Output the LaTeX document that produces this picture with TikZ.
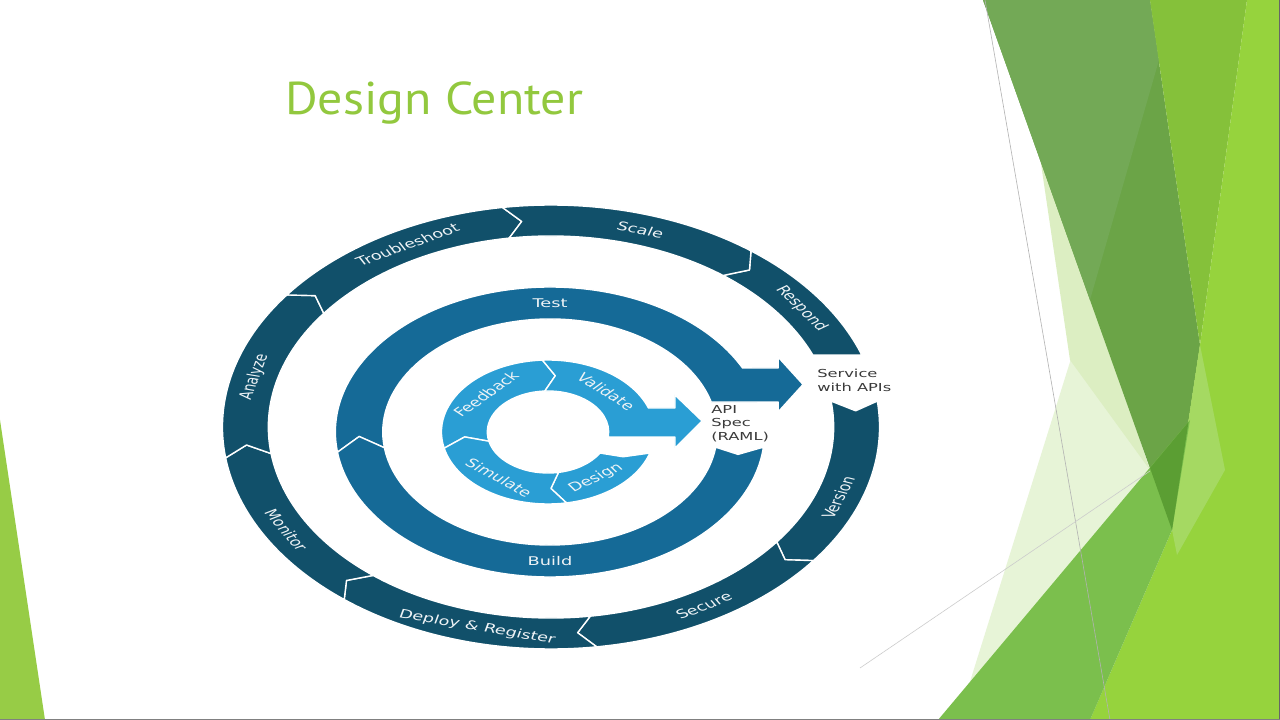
\documentclass[tikz,border=0pt]{standalone}
\usepackage{fontspec}
\setmainfont{DejaVu Sans}
\newfontfamily\titlefont{PT Sans}
\usetikzlibrary{calc}
\definecolor{ringA}{HTML}{11506A}
\definecolor{ringB}{HTML}{156A97}
\definecolor{ringC}{HTML}{2A9ED4}
\definecolor{titlegreen}{HTML}{92C83E}
\definecolor{lblcol}{HTML}{EEF3F6}
\definecolor{txtgrey}{HTML}{3A3A3A}
\definecolor{gDark}{HTML}{6BA447}
\definecolor{gDarkL}{HTML}{73A956}
\definecolor{gMid}{HTML}{85C13A}
\definecolor{gYel}{HTML}{96D33D}
\definecolor{gMed}{HTML}{7BBF4D}
\definecolor{gPatch}{HTML}{5B9E33}
\definecolor{gPale}{HTML}{DCEEC2}
\definecolor{gPale2}{HTML}{E7F4D7}
\definecolor{gLime}{HTML}{A5D962}
\definecolor{gLeft}{HTML}{97CC46}
\newcommand\rseg[6]{%
  \filldraw[segment, fill=#6] (#1:#4) arc[start angle=#1, end angle=#2, radius=#4]
    -- ({#2-#5}:{(#3+#4)/2}) -- (#2:#3) arc[start angle=#2, end angle=#1, radius=#3]
    -- ({#1-#5}:{(#3+#4)/2}) -- cycle;}
\begin{document}
\begin{tikzpicture}[x=1pt,y=1pt,
  segment/.style={draw=white, line width=1.4pt, line join=round},
  lbl/.style={text=lblcol, inner sep=0pt, font=\fontsize{12}{14}\selectfont, transform shape},
  side/.style={text=txtgrey, inner sep=0pt, align=left, anchor=west, xscale=1.48}]
\useasboundingbox (0,0) rectangle (1280,720);
\fill[white] (0,0) rectangle (1280,720);
% ---- decoration (screen y -> 720-y)
\fill[gLeft] (0,300) -- (45,0) -- (0,0) -- cycle;
\fill[gPale2] (958,0) -- (1080,390) -- (1150,250) -- (1100,0) -- cycle;
\fill[gPale] (1036,590) -- (1150,250) -- (1070,360) -- cycle;
\fill[gDark] (983,720) -- (1150,720) -- (1200,375) -- (1172,190) -- cycle;
\fill[gDarkL] (983,720) -- (1150,720) -- (1159,660) -- (1090,420) -- cycle;
\fill[gMid] (1150,720) -- (1247,720) -- (1200,375) -- cycle;
\fill[gYel] (1247,720) -- (1280,720) -- (1280,0) -- (1090,0) -- (1172,190) -- (1200,375) -- cycle;
\fill[gLime] (1200,375) -- (1225,250) -- (1177,165) -- (1172,190) -- cycle;
\fill[gMed] (938,0) -- (1190,300) -- (1172,190) -- (1090,0) -- cycle;
\fill[gPatch] (1150,252) -- (1188.5,298) -- (1172,190) -- cycle;
\draw[black!30, line width=0.6pt] (985,720) -- (1110,0);
\draw[black!20, line width=0.6pt] (860,52) -- (1150,249);
\draw[black!60, line width=1.2pt] (1279.4,0) -- (1279.4,720);
\draw[black!50, line width=1pt] (0,0.5) -- (1280,0.5);
% ---- title
\node[anchor=base west, inner sep=0pt, text=titlegreen, xscale=1.085,
      font=\titlefont\fontsize{46}{50}\selectfont] (title) at (285,605) {Design Center};
% ---- outer ring
\begin{scope}[shift={(551,293)}, xscale=1.48]
  \filldraw[segment, fill=ringA] (52.5:222) arc[start angle=52.5, end angle=18.9, radius=222]
     -- (22.1:191) arc[start angle=22.1, end angle=52.5, radius=191] -- (49.5:206.5) -- cycle;
  \filldraw[segment, fill=ringA] (6.7:222) arc[start angle=6.7, end angle=-37, radius=222]
     -- (-40:206.5) -- (-37:191) arc[start angle=-37, end angle=7.8, radius=191] -- (4.5:206.5) -- cycle;
  \rseg{-37}{-82}{191}{222}{3}{ringA}
  \rseg{-82}{-129}{191}{222}{3}{ringA}
  \rseg{-129}{-172}{191}{222}{3}{ringA}
  \rseg{188}{143.5}{191}{222}{3}{ringA}
  \rseg{143.5}{98.5}{191}{222}{3}{ringA}
  \rseg{98.5}{52.5}{191}{222}{3}{ringA}
  \node[lbl, rotate=28] (troubleshoot) at (118:206.5) {Troubleshoot};
  \node[lbl, rotate=-17] (scale) at (73:206.5) {Scale};
  \node[lbl, rotate=-55] (respond) at (35:206.5) {Respond};
  \node[lbl, rotate=70] (version) at (-20:206.5) {Version};
  \node[lbl, rotate=30] (secure) at (-60:206.5) {Secure};
  \node[lbl, rotate=-14] (deploy) at (-104:206.5) {Deploy \& Register};
  \node[lbl, rotate=-60] (monitor) at (-150:206.5) {Monitor};
  \node[lbl, rotate=76] (analyze) at (166:206.5) {Analyze};
\end{scope}
% ---- middle ring
\begin{scope}[shift={(550,288)}, xscale=1.48]
  \filldraw[segment, fill=ringB] (188:145) arc[start angle=188, end angle=26.19, radius=145]
     -- (154.1,64) -- (154.1,75) -- (171,47.5) -- (154.1,20) -- (154.1,30)
     -- (15.39:113) arc[start angle=15.39, end angle=188, radius=113] -- (182:129) -- cycle;
  \filldraw[segment, fill=ringB] (-6:145) arc[start angle=-6, end angle=-172, radius=145]
     -- (-178:129) -- (-172:113) arc[start angle=-172, end angle=-7.73, radius=113] -- (-10:129) -- cycle;
  \node[lbl] (test) at (90:129) {Test};
  \node[lbl] (build) at (-90:129) {Build};
\end{scope}
% ---- inner ring
\begin{scope}[shift={(548,288)}, xscale=1.48]
  \rseg{193}{93}{41}{72}{8}{ringC}
  \filldraw[segment, fill=ringC] (93:72) arc[start angle=93, end angle=19.47, radius=72]
     -- (85.8,24) -- (85.8,37) -- (104.1,11) -- (85.8,-16) -- (85.8,-5)
     -- (-7:41) arc[start angle=-7, end angle=93, radius=41] -- (85:56.5) -- cycle;
  \filldraw[segment, fill=ringC] (-17:72) arc[start angle=-17, end angle=-80, radius=72]
     -- (-88:56.5) -- (-80:41) arc[start angle=-80, end angle=-30.9, radius=41] -- (-26:56.5) -- cycle;
  \rseg{-80}{-167}{41}{72}{8}{ringC}
  \node[lbl, rotate=46] (feedback) at (138:56.5) {Feedback};
  \node[lbl, rotate=-43] (validate) at (46:56.5) {Validate};
  \node[lbl, rotate=-38] (simulate) at (-126:56.5) {Simulate};
  \node[lbl, rotate=35] (design) at (-55:56.5) {Design};
\end{scope}
% ---- side labels
\node[side, font=\fontsize{11}{14}\selectfont] (service) at (817,340) {Service\\with APIs};
\node[side, font=\fontsize{11}{13.5}\selectfont] (apispec) at (711,296.5) {API\\Spec\\(RAML)};
\end{tikzpicture}
\end{document}
